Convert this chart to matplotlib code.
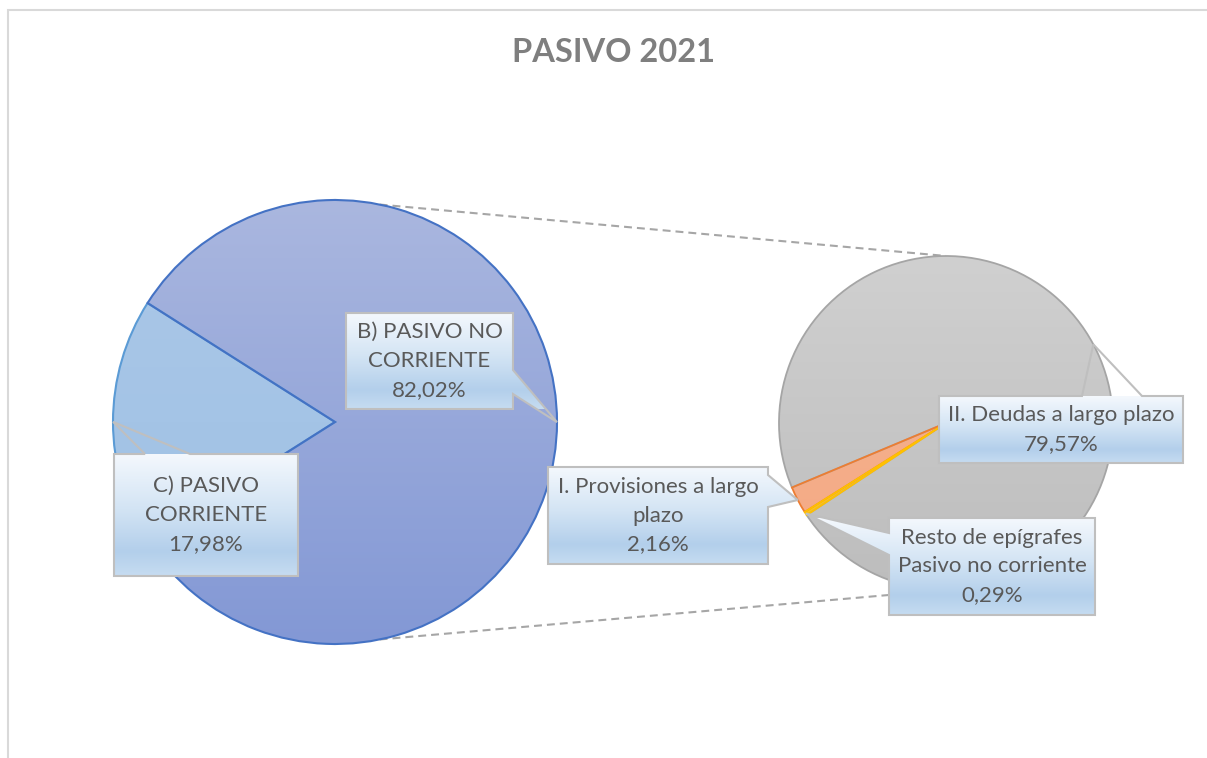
import textwrap
import numpy as np
import matplotlib.pyplot as plt
from matplotlib.colors import LinearSegmentedColormap
from matplotlib.patches import Polygon, Rectangle

W, H = 1207, 758

# first pie: total liabilities
main_labels = ["C) PASIVO CORRIENTE", "B) PASIVO NO CORRIENTE"]
main_values = [17.98, 82.02]

# second pie: breakdown of B) PASIVO NO CORRIENTE
sub_labels = ["I. Provisiones a largo plazo", "II. Deudas a largo plazo",
              "Resto de epígrafes Pasivo no corriente"]
sub_values = [2.16, 79.57, 0.29]

plt.rcParams['font.family'] = ['Lato', 'DejaVu Sans']

fig = plt.figure(figsize=(W / 100, H / 100), dpi=100)
ax = fig.add_axes([0, 0, 1, 1])


def Y(py):
    # pixel row (from top) -> data y
    return H - py


def grad_fill(patch, colors, extent, z):
    cmap = LinearSegmentedColormap.from_list('g', colors)
    g = np.linspace(0, 1, 256).reshape(-1, 1)
    im = ax.imshow(g, cmap=cmap, extent=extent, aspect='auto', origin='upper',
                   zorder=z, interpolation='bicubic')
    im.set_clip_path(patch)


def mid_point(wedge):
    a = np.deg2rad((wedge.theta1 + wedge.theta2) / 2)
    cx, cy = wedge.center
    return cx + wedge.r * np.cos(a), cy + wedge.r * np.sin(a)


# chart frame
ax.add_patch(Rectangle((8, -10), W + 10, Y(10) + 10, facecolor='none',
                       edgecolor='#d9d9d9', lw=1.5, zorder=0))

main_c, main_r = (335, Y(422)), 222
sub_c, sub_r = (946, Y(423)), 167

# connector lines between the two pies
for s in (1, -1):
    a = np.deg2rad(78.4 * s)
    x0, y0 = main_c[0] + main_r * np.cos(a), main_c[1] + main_r * np.sin(a)
    x1, y1 = sub_c[0], sub_c[1] + s * sub_r
    ax.plot([x0, x1], [y0, y1], color='#a6a6a6', lw=1.5, dashes=(3.8, 2.4), zorder=1)

main_w, _ = ax.pie(main_values, center=main_c, radius=main_r, startangle=147.6,
                   counterclock=True, frame=True)
sub_w, _ = ax.pie(sub_values, center=sub_c, radius=sub_r, startangle=212.2,
                  counterclock=False, frame=True)

main_fill = [['#acc8e8', '#9cc0e4'], ['#aab7df', '#8398d5']]
main_edge = ['#5b9bd5', '#4472c4']
sub_fill = [['#f6b48f', '#f4a985'], ['#d0d0d0', '#bdbdbd'], ['#ffd966', '#ffc000']]
sub_edge = ['#ed7d31', '#a5a5a5', '#ffc000']

for w, cols, ec in zip(main_w, main_fill, main_edge):
    w.set_facecolor('none')
    w.set_edgecolor(ec)
    w.set_linewidth(1.5)
    w.set_zorder(3)
    grad_fill(w, cols, (main_c[0] - main_r, main_c[0] + main_r,
                        main_c[1] - main_r, main_c[1] + main_r), 2)
for w, cols, ec in zip(sub_w, sub_fill, sub_edge):
    w.set_facecolor('none')
    w.set_edgecolor(ec)
    w.set_linewidth(1.3)
    w.set_zorder(3)
    grad_fill(w, cols, (sub_c[0] - sub_r, sub_c[0] + sub_r,
                        sub_c[1] - sub_r, sub_c[1] + sub_r), 2)
# thin slices drawn over the grey outline so they keep their colour
sub_w[0].set_zorder(4)
sub_w[2].set_zorder(4)

box_cols = [(0, '#f4f8fd'), (0.45, '#d3e4f4'), (0.8, '#b3cfeb'), (1, '#c6dcf1')]


def callout(box, side, base, tip, text, z=6):
    x0, y0, x1, y1 = box
    a, b = base
    T = 'tip'
    if side == 'top':
        pts = [(x0, y0), (a, y0), T, (b, y0), (x1, y0), (x1, y1), (x0, y1)]
    elif side == 'right':
        pts = [(x0, y0), (x1, y0), (x1, a), T, (x1, b), (x1, y1), (x0, y1)]
    else:
        pts = [(x0, y0), (x1, y0), (x1, y1), (x0, y1), (x0, b), T, (x0, a)]
    pts = [tip if p == T else (p[0], Y(p[1])) for p in pts]
    poly = Polygon(pts, closed=True, facecolor='none', edgecolor='#bfbfbf',
                   lw=1.5, zorder=z + 1)
    ax.add_patch(poly)
    xs = [p[0] for p in pts]
    cmap = LinearSegmentedColormap.from_list('box', box_cols)
    g = np.linspace(0, 1, 256).reshape(-1, 1)
    im = ax.imshow(g, cmap=cmap, extent=(min(xs), max(xs), Y(y1), Y(y0)),
                   aspect='auto', origin='upper', zorder=z, interpolation='bicubic')
    im.set_clip_path(poly)
    ax.text((x0 + x1) / 2, Y((y0 + y1) / 2), text, ha='center', va='center',
            fontsize=16, color='#595959', linespacing=1.55, zorder=z + 2)


def fmt(v):
    return f"{v:.2f}%".replace('.', ',')


# label layout: box (px), pointer side, pointer base, wrap width
main_boxes = [((114, 454, 298, 576), 'top', (145, 190), 12),
              ((346, 313, 513, 409), 'right', (370, 394), 12)]
sub_boxes = [((548, 467, 768, 564), 'right', (475, 507), 22),
             ((939, 396, 1183, 463), 'top', (1082, 1142), 24),
             ((889, 518, 1095, 615), 'left', (533, 555), 19)]

for w, lab, val, (box, side, base, wrap) in zip(main_w, main_labels, main_values, main_boxes):
    callout(box, side, base, mid_point(w), textwrap.fill(lab, wrap) + '\n' + fmt(val))
for w, lab, val, (box, side, base, wrap) in zip(sub_w, sub_labels, sub_values, sub_boxes):
    callout(box, side, base, mid_point(w), textwrap.fill(lab, wrap) + '\n' + fmt(val))

ax.text(613, Y(53), 'PASIVO 2021', ha='center', va='center', fontsize=23.5,
        fontweight='bold', color='#7f7f7f')

ax.set_xlim(0, W)
ax.set_ylim(0, H)
ax.axis('off')
fig.savefig('out.png', dpi=100)
